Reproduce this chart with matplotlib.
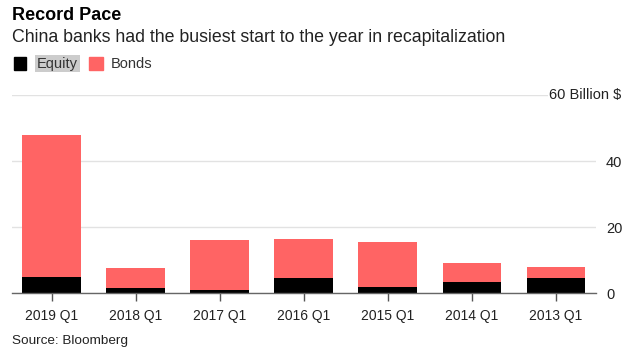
import matplotlib.pyplot as plt
from matplotlib.transforms import blended_transform_factory
import numpy as np

plt.rcParams['font.family'] = ['Liberation Sans', 'DejaVu Sans']

# data (billion $)
quarters = ["2019 Q1", "2018 Q1", "2017 Q1", "2016 Q1", "2015 Q1", "2014 Q1", "2013 Q1"]
equity = [5.0, 1.6, 1.0, 4.7, 1.9, 3.4, 4.7]
bonds = [42.8, 6.0, 15.1, 11.7, 13.6, 5.8, 3.2]

red = "#ff6464"
W, H = 634, 353

fig = plt.figure(figsize=(W / 100, H / 100), dpi=100)
# axes box in pixels: left 12, right 595.7, baseline 293.3, top (60) 95
ax = fig.add_axes([12 / W, 1 - 293.3 / H, (595.7 - 12) / W, (293.3 - 95) / H])

x = np.arange(len(quarters))
ax.bar(x, equity, width=0.7, color="black", zorder=3)
ax.bar(x, bonds, width=0.7, bottom=equity, color=red, zorder=3)

ax.set_xlim(-0.473, 6.473)
ax.set_ylim(0, 60)
ax.set_xticks(x)
ax.set_xticklabels(quarters, fontsize=10, color="#222222")
ax.tick_params(axis="x", length=6, width=1, color="#555555", pad=5)

ax.yaxis.tick_right()
ax.set_yticks([0, 20, 40, 60])
ax.set_yticklabels(["0", "20", "40", ""], fontsize=10.5, color="#222222")
ax.tick_params(axis="y", length=0, pad=7.5)
ax.text(621 / W, 60, "60 Billion $", transform=blended_transform_factory(fig.transFigure, ax.transData),
        ha="right", va="center", fontsize=10.5, color="#222222",
        bbox=dict(facecolor="white", edgecolor="none", pad=0.5), zorder=5)

ax.grid(axis="y", color="#e2e2e2", linewidth=1, zorder=0)
for s in ["top", "right", "left"]:
    ax.spines[s].set_visible(False)
ax.spines["bottom"].set_color("#666666")
ax.spines["bottom"].set_linewidth(1)
ax.spines["bottom"].set_zorder(4)

# header
fig.text(12 / W, 1 - 20 / H, "Record Pace", fontsize=13, fontweight="bold", va="baseline", color="black")
fig.text(12 / W, 1 - 41.7 / H, "China banks had the busiest start to the year in recapitalization",
         fontsize=12.8, va="baseline", color="#222222")

# legend
fig.patches.append(plt.Rectangle((14 / W, 1 - 70 / H), 12 / W, 13 / H, color="black", transform=fig.transFigure))
fig.text(37 / W, 1 - 67.7 / H, "Equity", fontsize=10.5, va="baseline", color="#333333",
         bbox=dict(facecolor="#cccccc", edgecolor="none", pad=1.2))
fig.patches.append(plt.Rectangle((89 / W, 1 - 70 / H), 14 / W, 13 / H, color=red, transform=fig.transFigure))
fig.text(111 / W, 1 - 67.7 / H, "Bonds", fontsize=10.5, va="baseline", color="#333333")

fig.text(12 / W, 1 - 344 / H, "Source: Bloomberg", fontsize=9.7, va="baseline", color="#222222")

fig.savefig("out.png", dpi=100)
